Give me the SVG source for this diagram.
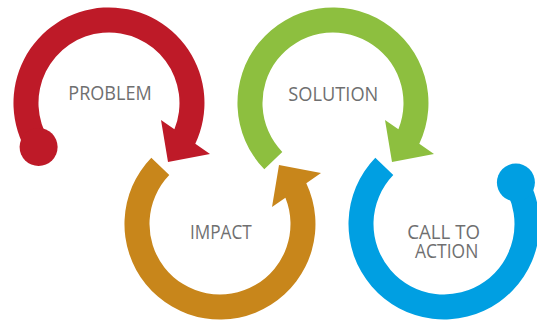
<svg xmlns="http://www.w3.org/2000/svg" width="537" height="323" viewBox="0 0 537 323">
<style>
.lbl{font-family:"Open Sans","DejaVu Sans",sans-serif;font-size:19.5px;fill:#6f6f70;}
.red{fill:#be1a28;}
.orange{fill:#c8861b;}
.green{fill:#8dbf3f;}
.blue{fill:#009fe2;}
</style>
<rect width="537" height="323" fill="#ffffff"/>
<g id="connectors"></g>
<g id="problem">
<path class="red" d="M28.01,153.61 A95.5,95.5 0 1 1 195.3,143.8 L210,154 L168,162 L161,120 L174.4,129.3 A70.5,70.5 0 1 0 49.21,140.36 Z"/>
<circle class="red" cx="38.6" cy="147" r="19"/>
<text class="lbl" x="68.3" y="100.3" textLength="83.4" lengthAdjust="spacingAndGlyphs">PROBLEM</text>
</g>
<g id="impact">
<path class="orange" d="M151.3,157.66 A95.5,95.5 0 1 0 306.3,183.2 L321,173 L279,165 L272,207 L285.4,197.7 A70.5,70.5 0 1 1 169.29,175.03 Z"/>
<text class="lbl" x="190" y="239" textLength="61.7" lengthAdjust="spacingAndGlyphs">IMPACT</text>
</g>
<g id="solution">
<path class="green" d="M264.3,169.34 A95.5,95.5 0 1 1 419.3,143.8 L434,154 L392,162 L385,120 L398.4,129.3 A70.5,70.5 0 1 0 282.29,151.97 Z"/>
<text class="lbl" x="288.3" y="100.5" textLength="90" lengthAdjust="spacingAndGlyphs">SOLUTION</text>
</g>
<g id="call-to-action">
<path class="blue" d="M375.3,157.66 A95.5,95.5 0 1 0 526.7,176.25 L505.05,188.75 A70.5,70.5 0 1 1 393.29,175.03 Z"/>
<circle class="blue" cx="515.9" cy="182.5" r="19"/>
<text class="lbl" x="407.3" y="239" textLength="72.7" lengthAdjust="spacingAndGlyphs">CALL TO</text>
<text class="lbl" x="415" y="258" textLength="63.3" lengthAdjust="spacingAndGlyphs">ACTION</text>
</g>
</svg>
